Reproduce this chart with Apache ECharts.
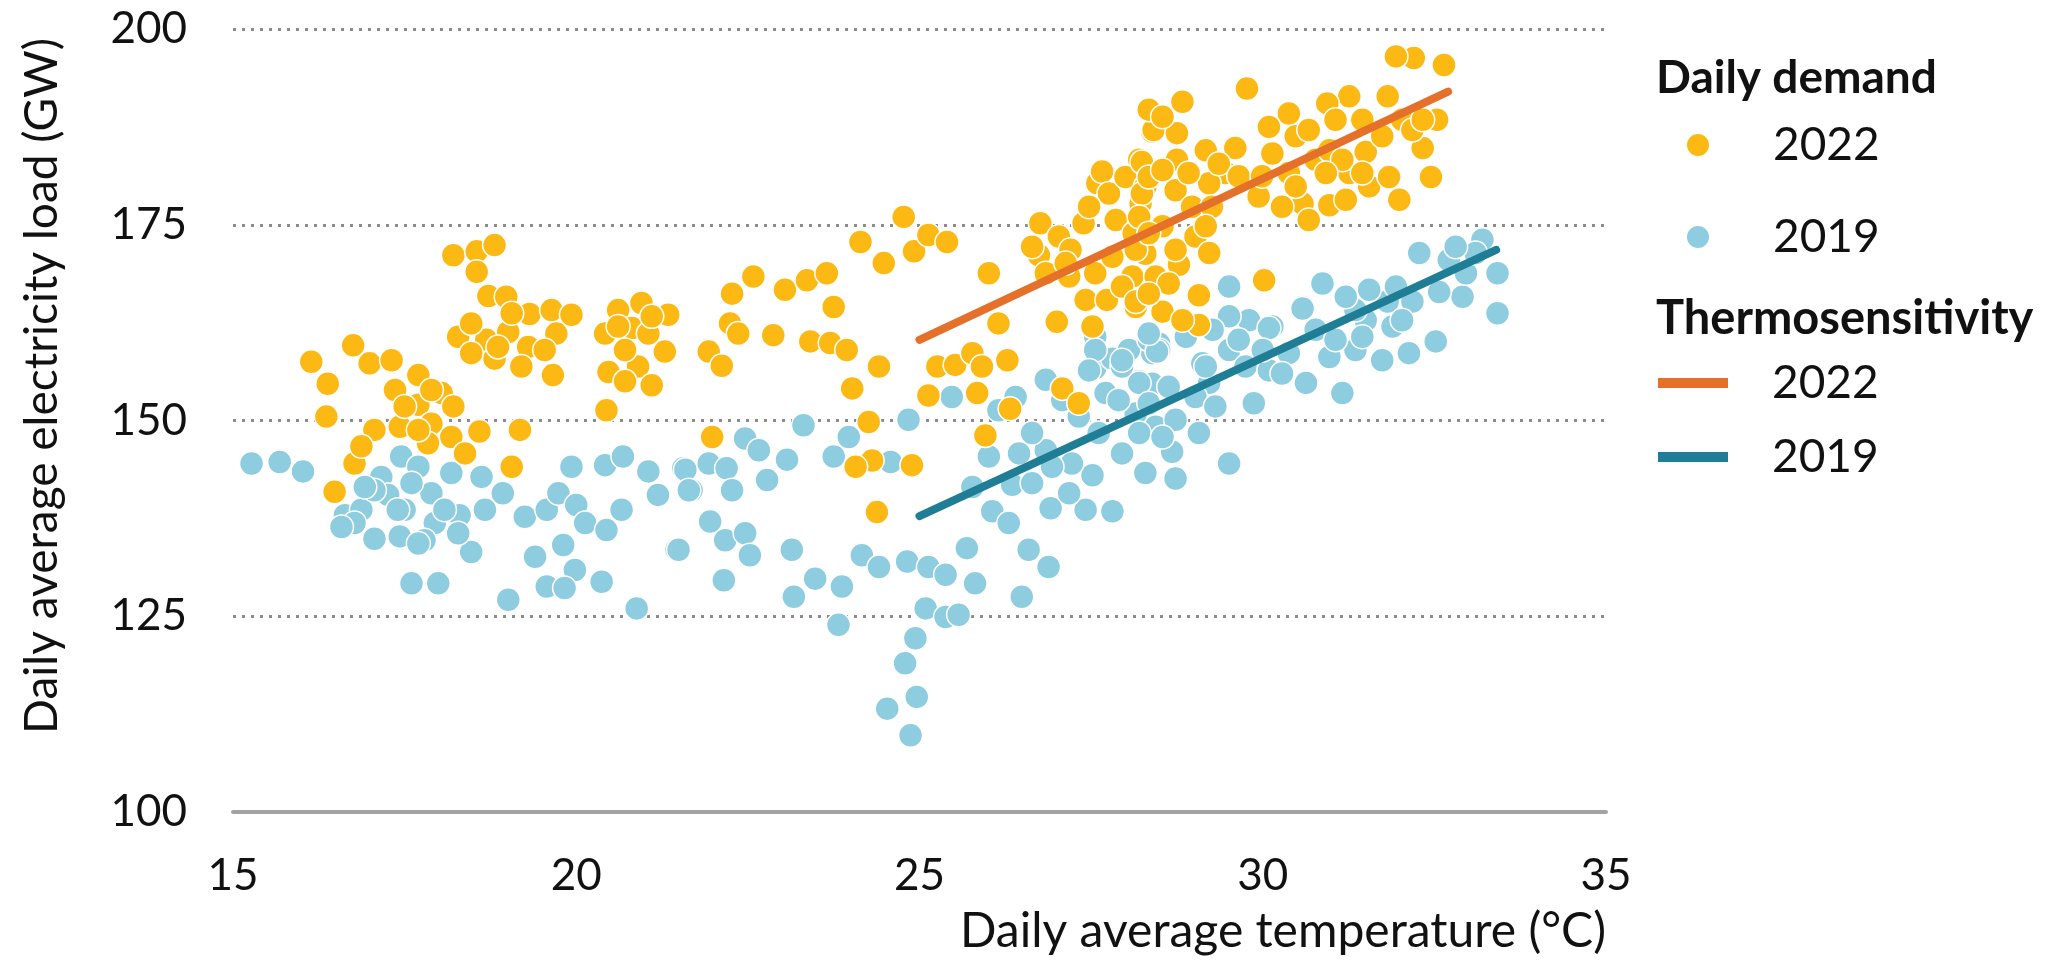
<!DOCTYPE html>
<html>
<head>
<meta charset="utf-8">
<script src="https://cdn.jsdelivr.net/npm/echarts@6/dist/echarts.min.js"></script>
<style>
  html, body { margin: 0; padding: 0; background: #ffffff; }
  #chart { width: 2069px; height: 961px; }
</style>
</head>
<body>
<div id="chart"></div>
<script>
// ---- Data ----
// Daily demand 2022: [daily average temperature (°C), daily average load (GW)]
const demand2022 = [
  [18.21,171.1],[18.55,171.6],[18.81,172.4],[18.55,169.0],[18.72,165.9],[18.98,165.8],[19.32,163.6],[19.64,164.1],
  [19.93,163.5],[18.28,160.7],[18.69,160.3],[19.01,161.3],[19.30,159.4],[19.71,161.1],[19.54,159.0],[18.47,158.6],
  [18.81,157.9],[19.20,156.9],[19.66,155.8],[20.42,161.1],[20.61,164.1],[20.95,165.0],[21.34,163.5],[20.81,161.8],
  [21.05,161.1],[21.29,158.8],[20.47,156.2],[20.90,156.9],[20.71,155.0],[21.10,154.5],[20.44,151.3],[16.14,157.5],
  [16.75,159.6],[16.38,154.7],[16.99,157.3],[17.31,157.7],[17.70,155.8],[17.36,153.9],[16.36,150.5],[17.70,152.0],
  [18.04,153.5],[18.21,151.8],[17.06,148.8],[17.43,149.2],[17.89,149.6],[18.18,147.9],[18.59,148.6],[19.18,148.8],
  [16.77,144.5],[17.84,147.1],[18.38,145.8],[19.06,144.1],[16.48,140.9],[16.87,146.7],
  [19.06,163.7],[18.47,162.4],[18.86,159.4],[20.61,162.0],[21.10,163.3],[20.71,159.0],[17.89,153.9],[17.50,151.8],[17.70,148.8],
  [22.27,166.2],[22.58,168.4],[22.24,162.4],[22.36,161.1],[21.93,158.8],[22.12,157.0],[22.87,160.9],[23.04,166.7],
  [23.36,167.9],[23.65,168.8],[23.75,164.5],[23.41,160.1],[23.70,159.9],[23.94,159.0],[24.02,154.1],[24.41,156.9],
  [24.26,149.8],[24.31,144.9],[24.89,144.3],[24.14,172.8],[24.48,170.1],[24.77,176.0],[24.92,171.6],[25.13,173.7],
  [25.40,172.8],[26.01,168.8],[21.98,147.9],[24.38,138.3],[25.26,156.9],[25.52,157.1],[25.77,158.6],[25.91,156.9],
  [26.28,157.7],[25.13,153.2],[25.84,153.5],[26.15,162.4],[26.32,151.5],[25.96,148.1],[27.08,154.1],[27.32,152.2],
  [26.76,175.2],[26.74,171.1],[27.03,173.5],[27.20,171.8],[27.39,175.2],[27.59,180.3],[27.66,181.8],[27.86,175.6],
  [27.56,168.8],[27.42,165.4],[27.00,162.6],[27.52,162.0],[27.73,165.4],[28.15,164.5],[27.81,170.9],[28.20,183.3],
  [28.39,186.9],[28.39,189.2],[28.22,177.7],[28.29,171.3],[28.39,167.1],[28.12,173.9],[28.10,168.4],[24.07,144.1],
  [26.84,168.8],[27.18,168.4],[27.95,167.1],[27.76,179.0],[28.00,181.1],[28.29,179.9],[27.47,177.3],[27.13,170.1],[26.64,172.2],
  [32.20,196.3],[32.64,195.4],[31.94,196.5],[31.82,191.4],[31.26,191.4],[30.94,190.5],[30.38,189.2],[30.09,187.5],
  [29.77,192.4],[28.83,190.7],[28.41,187.1],[28.75,186.7],[28.24,183.0],[28.75,183.3],[29.17,184.5],[29.60,184.8],
  [29.46,181.6],[29.22,180.3],[28.73,179.4],[28.24,179.0],[29.94,178.6],[30.58,177.7],[30.97,177.5],[31.50,184.3],
  [31.55,179.9],[31.99,178.2],[32.33,184.8],[32.45,181.1],[32.54,188.4],[32.03,188.4],[31.45,188.4],[30.77,183.3],
  [31.26,181.6],[30.97,184.5],[30.38,181.6],[30.67,175.6],[28.20,176.0],[28.15,171.8],[28.54,174.8],[28.78,169.9],
  [28.44,168.4],[28.54,163.9],[29.07,166.0],[29.07,162.2],[28.15,165.2],[30.02,167.9],
  [28.34,189.7],[28.54,188.8],[29.36,182.8],[29.65,181.2],[29.99,181.2],[30.14,184.1],[30.48,186.3],[30.67,187.1],
  [31.06,188.4],[31.16,183.3],[31.45,181.6],[31.74,186.3],[31.84,181.1],[32.18,187.1],[32.33,188.4],[30.48,179.9],
  [30.28,177.3],[30.92,181.6],[31.21,178.2],[28.34,181.1],[28.92,181.6],[28.97,177.3],[28.54,182.0],[29.26,177.3],
  [28.34,173.9],[28.73,171.8],[29.02,173.5],[28.63,167.5],[28.34,166.2],[28.83,162.8],[29.22,171.4],[29.17,174.8]
];

// Daily demand 2019
const demand2019 = [
  [15.27,144.5],[15.68,144.7],[16.02,143.5],[16.63,137.9],[16.87,138.6],[17.06,134.9],[17.43,135.2],[17.16,142.8],
  [17.26,140.5],[17.45,145.4],[17.70,144.1],[17.89,140.7],[18.18,143.3],[18.30,137.9],[17.94,136.9],[18.62,142.8],
  [18.93,140.7],[18.47,133.2],[17.60,129.2],[17.99,129.2],[19.01,127.1],[16.77,136.9],[19.25,137.7],[19.57,138.6],
  [19.74,140.7],[20.00,139.2],[19.40,132.6],[19.81,134.1],[19.98,130.9],[19.57,128.8],[19.83,128.6],[20.37,129.4],
  [20.13,136.9],[20.44,136.0],[20.66,138.6],[19.93,144.1],[20.42,144.3],[20.68,145.4],[21.05,143.5],[21.56,143.9],
  [21.19,140.5],[21.46,133.5],[20.88,126.0],[21.68,141.1],[17.50,138.6],[17.79,134.7],[17.06,141.1],
  [16.92,141.5],[17.60,142.0],[18.08,138.6],[17.40,138.6],[17.70,134.3],[18.28,135.6],[16.58,136.4],[18.67,138.6],
  [21.59,143.7],[21.64,141.1],[21.93,144.5],[22.19,143.9],[22.46,147.7],[22.66,146.2],[22.27,141.1],[22.78,142.4],
  [23.07,145.0],[23.31,149.4],[21.49,133.5],[21.95,137.1],[22.17,134.7],[22.46,135.6],[22.53,132.8],[22.15,129.6],
  [23.14,133.5],[23.17,127.5],[23.48,129.8],[23.87,128.8],[23.82,123.9],[24.16,132.8],[24.41,131.3],[24.82,132.0],
  [25.13,131.3],[25.38,130.3],[25.09,126.0],[25.38,124.9],[25.57,125.2],[24.94,122.2],[24.79,119.0],[24.53,113.2],
  [24.96,114.7],[24.87,109.8],[23.75,145.4],[23.97,147.9],[24.58,144.7],[24.84,150.1],[25.69,133.7],[25.81,129.2],
  [26.49,127.5],[26.59,133.5],[26.88,131.3],[26.91,138.8],[27.42,138.6],[27.81,138.4],[26.06,138.4],[26.30,136.9],
  [26.35,141.8],[26.45,145.8],[26.84,146.2],[27.52,143.0],[27.95,145.8],[27.22,144.5],[26.84,155.2],[27.56,156.7],
  [27.81,157.9],[28.20,155.0],[28.39,158.6],[28.44,149.2],[26.40,153.0],[25.47,153.0],[27.71,153.5],[28.15,150.9],
  [27.08,152.6],[27.32,150.5],[27.61,148.4],[27.90,152.6],[28.20,148.4],[28.29,143.3],[26.93,144.1],[26.64,142.0],
  [27.18,140.7],[27.95,156.9],[28.39,154.7],[27.56,160.7],[28.05,159.0],[28.34,160.3],[26.01,145.4],[25.77,141.5],
  [26.64,148.4],[26.15,151.3],[27.56,159.0],[27.95,157.7],[28.49,159.8],[27.47,156.4],
  [33.20,173.1],[33.42,168.8],[33.42,163.7],[32.28,171.4],[32.71,170.5],[32.91,165.8],[32.57,166.4],[32.18,165.2],
  [31.82,165.2],[32.52,160.1],[32.13,158.6],[31.35,159.0],[30.97,158.1],[30.87,167.5],[30.58,164.5],[30.14,162.0],
  [29.51,167.1],[29.80,162.8],[29.51,159.0],[29.12,157.3],[28.49,159.0],[28.20,154.8],[28.63,154.3],[29.22,154.8],
  [29.75,156.9],[30.09,156.4],[30.63,154.8],[31.16,153.5],[29.87,152.2],[29.51,144.5],[28.68,146.0],[28.73,142.6],
  [28.73,150.1],[31.50,162.8],[31.74,157.7],[30.38,158.6],[31.35,164.1],[28.46,158.8],[29.17,156.9],[29.51,163.3],
  [30.09,161.8],[30.58,164.3],
  [28.34,161.1],[28.88,160.7],[29.27,161.6],[29.65,160.3],[30.00,159.0],[30.28,156.0],[30.77,161.6],[31.06,160.3],
  [31.45,160.7],[31.89,162.0],[32.03,162.8],[29.02,153.0],[29.31,151.8],[28.34,152.2],[28.54,147.9],[29.07,148.4],
  [32.96,168.8],[33.10,171.4],[32.81,172.2],[31.94,167.1],[31.55,166.7],[31.21,165.8]
];

// Thermosensitivity (fitted lines): start and end points
const trend2022 = [[25.0, 160.3], [32.7, 192.0]];
const trend2019 = [[25.0, 137.8], [33.4, 171.8]];

// Axis ticks
const xTicks = { min: 15, max: 35, interval: 5 };
const yTicks = { min: 100, max: 200, interval: 25 };

// Labels
const yTitle = 'Daily average electricity load (GW)';
const xTitle = 'Daily average temperature (°C)';
const legendHead1 = 'Daily demand';
const legendHead2 = 'Thermosensitivity';

// ---- Styles ----
const FONT = 'Lato, "Open Sans", sans-serif';
const TXT = '#111111';
const C2022 = '#FDB913';
const C2019 = '#8ECDE0';
const L2022 = '#E5702A';
const L2019 = '#1F7E95';

const chart = echarts.init(document.getElementById('chart'), null, { renderer: 'canvas' });

const option = {
  backgroundColor: '#ffffff',
  animation: false,
  grid: { left: 233, right: 463, top: 29, bottom: 149, containLabel: false },
  xAxis: {
    type: 'value',
    min: xTicks.min, max: xTicks.max, interval: xTicks.interval,
    name: xTitle,
    nameLocation: 'end',
    nameGap: 0,
    nameTextStyle: { fontFamily: FONT, fontSize: 48, color: TXT, align: 'right', verticalAlign: 'top', padding: [96, 0, 0, 0] },
    axisLine: { show: true, lineStyle: { color: '#a3a3a3', width: 4 } },
    axisTick: { show: false },
    splitLine: { show: false },
    axisLabel: { fontFamily: FONT, fontSize: 44, color: TXT, margin: 42 }
  },
  yAxis: {
    type: 'value',
    min: yTicks.min, max: yTicks.max, interval: yTicks.interval,
    axisLine: { show: false },
    axisTick: { show: false },
    splitLine: { show: true, lineStyle: { color: '#8c8c8c', width: 3, type: [3, 6] } },
    axisLabel: { fontFamily: FONT, fontSize: 44, color: TXT, margin: 46 }
  },
  legend: [
    {
      data: ['Daily demand 2022', 'Daily demand 2019'],
      orient: 'vertical', left: 1685, top: 120, padding: 0,
      icon: 'circle', itemWidth: 24, itemHeight: 24, itemGap: 42,
      selectedMode: false,
      formatter: n => n.split(' ').pop(),
      textStyle: { fontFamily: FONT, fontSize: 46, color: TXT, lineHeight: 50, padding: [0, 0, 0, 58] }
    },
    {
      data: ['Thermosensitivity 2022', 'Thermosensitivity 2019'],
      orient: 'vertical', left: 1658, top: 358, padding: 0,
      icon: 'rect', itemWidth: 70, itemHeight: 10, itemGap: 24,
      selectedMode: false,
      formatter: n => n.split(' ').pop(),
      textStyle: { fontFamily: FONT, fontSize: 46, color: TXT, lineHeight: 50, padding: [0, 0, 0, 39] }
    }
  ],
  graphic: [
    {
      type: 'text', left: 1656, top: 55,
      style: { text: legendHead1, fontFamily: FONT, fontSize: 46, fontWeight: 'bold', fill: TXT }
    },
    {
      type: 'text', left: 1656, top: 295,
      style: { text: legendHead2, fontFamily: FONT, fontSize: 47, fontWeight: 'bold', fill: TXT }
    },
    {
      type: 'text', x: 42, y: 386, rotation: Math.PI / 2,
      style: { text: yTitle, fontFamily: FONT, fontSize: 46, fill: TXT, align: 'center', verticalAlign: 'middle' }
    }
  ],
  series: [
    {
      name: 'Daily demand 2019', type: 'scatter', data: demand2019,
      symbol: 'circle', symbolSize: 24,
      itemStyle: { color: C2019, borderColor: '#ffffff', borderWidth: 1.5, opacity: 1 },
      z: 2
    },
    {
      name: 'Daily demand 2022', type: 'scatter', data: demand2022,
      symbol: 'circle', symbolSize: 24,
      itemStyle: { color: C2022, borderColor: '#ffffff', borderWidth: 1.5, opacity: 1 },
      z: 3
    },
    {
      name: 'Thermosensitivity 2022', type: 'line', data: trend2022,
      color: L2022, showSymbol: false, symbol: 'none',
      lineStyle: { color: L2022, width: 8, cap: 'round' },
      itemStyle: { color: L2022 },
      z: 5
    },
    {
      name: 'Thermosensitivity 2019', type: 'line', data: trend2019,
      color: L2019, showSymbol: false, symbol: 'none',
      lineStyle: { color: L2019, width: 8, cap: 'round' },
      itemStyle: { color: L2019 },
      z: 5
    }
  ]
};

chart.setOption(option);
</script>
</body>
</html>
